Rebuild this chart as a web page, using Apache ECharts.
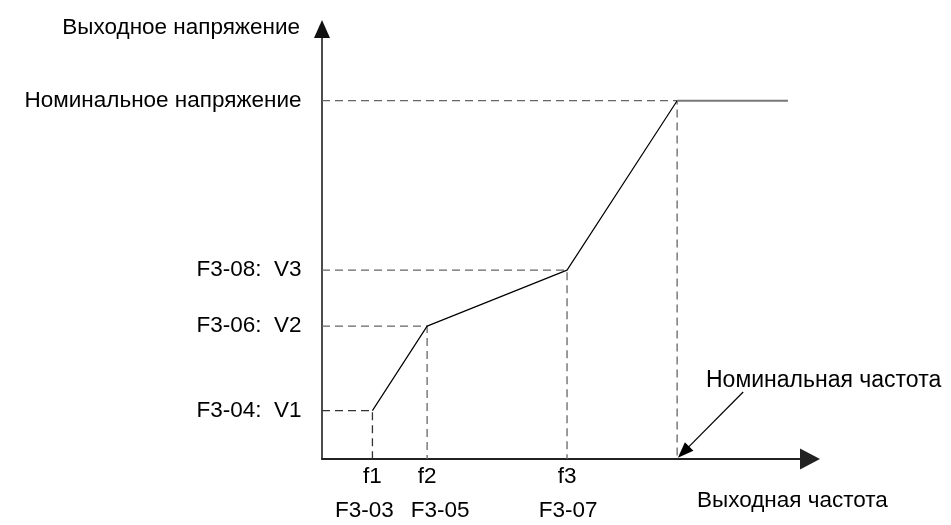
<!DOCTYPE html>
<html>
<head>
<meta charset="utf-8">
<script src="https://cdn.jsdelivr.net/npm/echarts@6/dist/echarts.min.js"></script>
<style>html,body{margin:0;padding:0;background:#fff;}#c{width:951px;height:525px;}</style>
</head>
<body>
<div id="c"></div>
<script>
// ---- data (frequency in Hz-like units, voltage in % of rated) ----
const freqs = [7.1, 14.8, 34.5, 50];
const volts = [13.5, 37.1, 52.7, 100];
const yLabels = ['F3-04:  V1', 'F3-06:  V2', 'F3-08:  V3', 'Номинальное напряжение'];
const xLabelsTop = ['f1', 'f2', 'f3'];
const xLabelsBottom = ['F3-03', 'F3-05', 'F3-07'];
const lineEndFreq = 65.6;
const xAxisMax = 67.3;
const yAxisMax = 117.5;
const yAxisName = 'Выходное напряжение';
const xAxisName = 'Выходная частота';
const ratedFreqText = 'Номинальная частота';
const pointerFrom = [59.3, 18.7];
const pointerTo = [50.9, 1.9];

// ---- layout / style ----
const bottomLabelShift = [-8, 13, 1];
const FONT = "'Liberation Sans', Arial, sans-serif";
const FS = 22.5;

const chart = echarts.init(document.getElementById('c'), null, {renderer: 'canvas'});

const series = [];
// dashed guide lines
for (let i = 0; i < freqs.length; i++) {
  const f = freqs[i], v = volts[i];
  const hasX = i < xLabelsTop.length;
  const data = [
    {value: [0, v], label: {show: true, position: 'left', distance: 20, formatter: yLabels[i],
      color: '#000', fontSize: FS, fontFamily: FONT}},
    {value: [f, v]},
    {value: [f, 0], label: {show: hasX, position: 'bottom', distance: 6,
      formatter: hasX ? xLabelsTop[i] : '', align: 'center',
      color: '#000', fontSize: FS, fontFamily: FONT}}
  ];
  series.push({
    type: 'line', data: data, symbol: 'circle', symbolSize: 1,
    itemStyle: {color: 'transparent', borderWidth: 0, opacity: 1},
    lineStyle: {color: i === 0 ? '#333' : '#666', width: 1.3, type: [8, 5]},
    silent: true, z: 2
  });
}
// parameter code labels under the frequency axis
series.push({
  type: 'scatter', symbol: 'circle', symbolSize: 1, silent: true,
  itemStyle: {color: 'transparent', borderWidth: 0, opacity: 1},
  data: xLabelsBottom.map((t, i) => ({
    value: [freqs[i], 0],
    label: {show: true, position: 'bottom', distance: 40, offset: [bottomLabelShift[i], 0],
      formatter: t, color: '#000', opacity: 1, fontSize: FS, fontFamily: FONT}
  }))
});
// main V/F curve
const curve = freqs.map((f, i) => [f, volts[i]]);
series.push({
  type: 'line', data: curve, symbol: 'none',
  lineStyle: {color: '#000', width: 1.2}, silent: true, z: 3,
  markLine: {
    silent: true, symbol: ['none', 'triangle'], symbolSize: [12, 16],
    lineStyle: {color: '#000', width: 1.2, type: 'solid'}, label: {show: false},
    data: [[{coord: pointerFrom}, {coord: pointerTo}]]
  }
});
series.push({
  type: 'line', data: [[freqs[3], volts[3]], [lineEndFreq, volts[3]]], symbol: 'none',
  lineStyle: {color: '#777', width: 2}, silent: true, z: 3
});

chart.setOption({
  animation: false,
  backgroundColor: '#fff',
  textStyle: {fontFamily: FONT},
  grid: {left: 322, right: 151, top: 38, bottom: 66, containLabel: false},
  xAxis: {
    type: 'value', min: 0, max: xAxisMax,
    axisLine: {show: true, onZero: false, lineStyle: {color: '#222', width: 2},
      symbol: ['none', 'triangle'], symbolSize: [21, 20], symbolOffset: [0, 10]},
    axisTick: {show: false}, axisLabel: {show: false}, splitLine: {show: false},
    name: xAxisName, nameLocation: 'end', nameGap: -103,
    nameTextStyle: {color: '#000', fontSize: FS, fontFamily: FONT, align: 'left',
      verticalAlign: 'top', padding: [30, 0, 0, 0]}
  },
  yAxis: {
    type: 'value', min: 0, max: yAxisMax,
    axisLine: {show: true, onZero: false, lineStyle: {color: '#111', width: 1.5},
      symbol: ['none', 'triangle'], symbolSize: [16, 18], symbolOffset: [0, 9]},
    axisTick: {show: false}, axisLabel: {show: false}, splitLine: {show: false},
    name: yAxisName, nameLocation: 'end', nameGap: 10,
    nameTextStyle: {color: '#000', fontSize: FS, fontFamily: FONT, align: 'right',
      verticalAlign: 'middle', padding: [0, 22, 0, 0]}
  },
  graphic: [{
    type: 'text', left: 706, top: 369,
    style: {text: ratedFreqText, fill: '#000', fontSize: 23, fontFamily: FONT}
  }],
  series: series
});
</script>
</body>
</html>
